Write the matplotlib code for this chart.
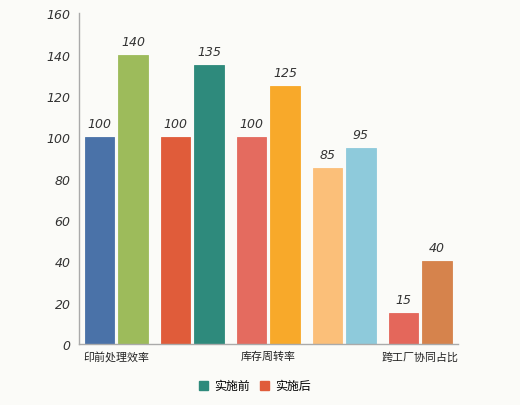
import matplotlib
matplotlib.use("Agg")
import matplotlib.pyplot as plt
import numpy as np
from matplotlib.patches import Patch

plt.rcParams['font.family'] = ['Noto Sans CJK SC', 'DejaVu Sans']

categories = ["印前处理效率", "类别二", "库存周转率", "类别四", "跨工厂协同占比"]
tick_labels = ["印前处理效率", "", "库存周转率", "", "跨工厂协同占比"]
before = [100, 100, 100, 85, 15]
after = [140, 135, 125, 95, 40]
before_colors = ["#4a72a8", "#e05c3a", "#e46b5f", "#fbbf79", "#e4675b"]
after_colors = ["#9dbb5b", "#2e8a7c", "#f8a92a", "#8ecadb", "#d6834c"]
legend_labels = ["实施前", "实施后"]
legend_colors = ["#2e8a7c", "#e05c3a"]
yticks = [0, 20, 40, 60, 80, 100, 120, 140, 160]

bg = "#fbfbf8"
fig = plt.figure(figsize=(5.2, 4.06), dpi=100, facecolor=bg)
ax = fig.add_axes([0.152, 0.150, 0.729, 0.815], facecolor=bg)

x = np.arange(len(categories))
w = 0.39
off = 0.22
b1 = ax.bar(x - off, before, w, color=before_colors, edgecolor=before_colors, linewidth=0.6)
b2 = ax.bar(x + off, after, w, color=after_colors, edgecolor=after_colors, linewidth=0.6)

num_font = dict(fontsize=9, style='italic', color="#333333", family='DejaVu Sans')
for bars, vals in ((b1, before), (b2, after)):
    for r, v in zip(bars, vals):
        ax.annotate(str(v), (r.get_x() + r.get_width() / 2, v), xytext=(0, 5),
                    textcoords='offset points', ha='center', va='bottom', **num_font)

ax.set_xlim(-0.49, 4.5)
ax.set_ylim(0, 160)
ax.set_yticks(yticks)
ax.set_yticklabels([str(t) for t in yticks], **num_font)
ax.set_xticks(x)
ax.set_xticklabels(tick_labels, fontsize=7.9, color="#222222", fontweight='medium')
ax.tick_params(axis='both', length=0)
ax.tick_params(axis='x', pad=5)
ax.tick_params(axis='y', pad=6)

for s in ['top', 'right']:
    ax.spines[s].set_visible(False)
for s in ['left', 'bottom']:
    ax.spines[s].set_color("#aaaaaa")
    ax.spines[s].set_linewidth(1.0)

handles = [Patch(facecolor=c, edgecolor=c) for c in legend_colors]
fig.legend(handles, legend_labels, loc='center', bbox_to_anchor=(0.49, 0.047), ncol=2,
           frameon=False, fontsize=8.6, handlelength=0.8, handleheight=0.8,
           handletextpad=0.5, columnspacing=0.8,
           prop={'size': 8.6, 'weight': 'medium'})

fig.savefig("out.png", dpi=100, facecolor=bg)
